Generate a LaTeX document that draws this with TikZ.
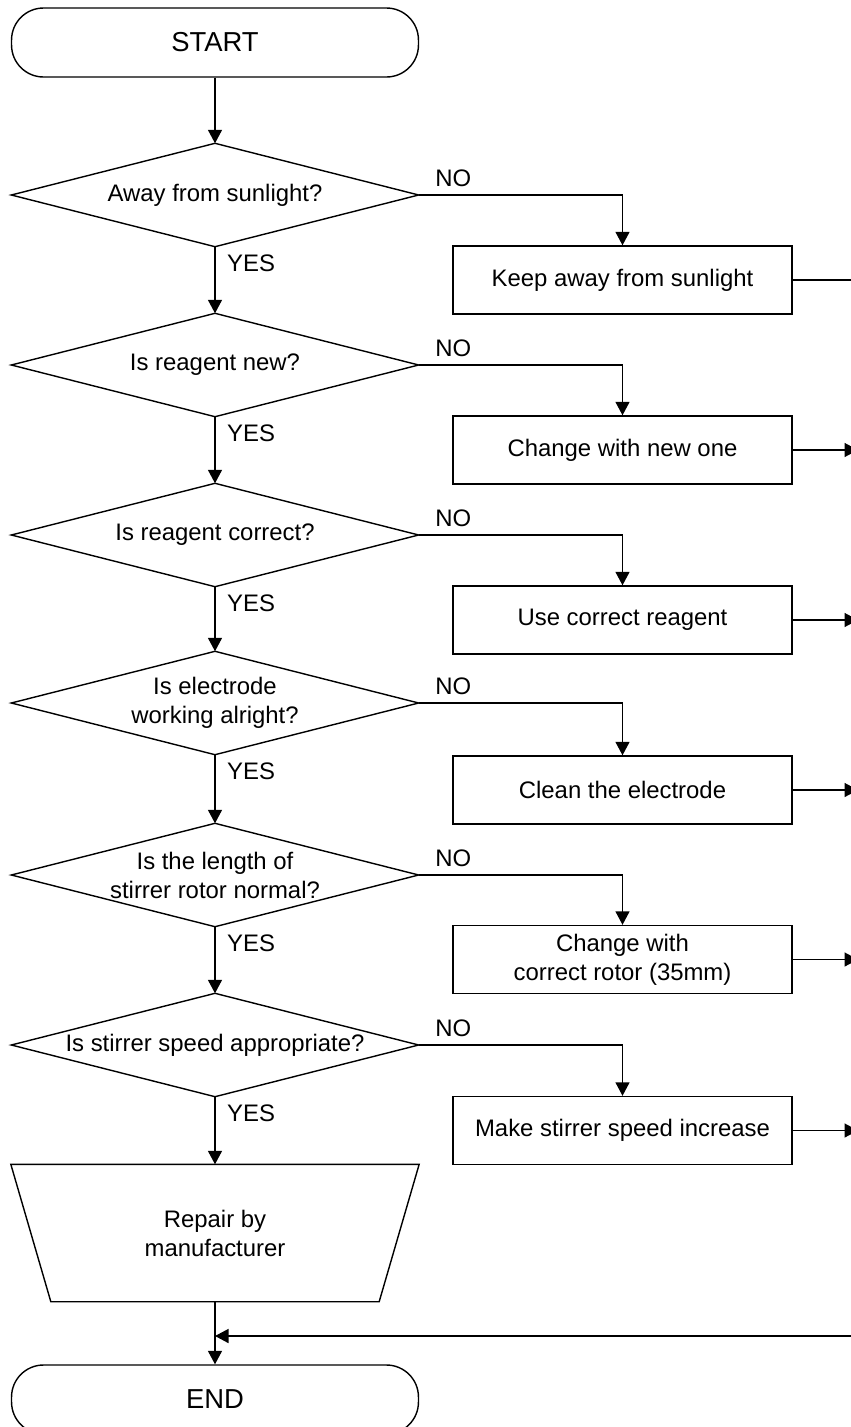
\documentclass[tikz,border=0pt]{standalone}
\usepackage{fontspec}
\setmainfont{Liberation Sans}
\usetikzlibrary{arrows.meta}

\begin{document}
\begin{tikzpicture}[x=0.02cm,y=-0.02cm,line width=0.8pt]
  \tikzset{every node/.style = {font=\fontsize{13.6}{16.5}\selectfont}}
  \tikzset{terminal/.style = {draw, rounded corners=0.64cm, minimum width=8.14cm, minimum height=1.38cm, font=\fontsize{15.6}{18}\selectfont}}
  \tikzset{decision/.style = {minimum width=8.12cm, minimum height=2.04cm, inner sep=0pt, align=center}}
  \tikzset{action/.style = {draw, minimum width=6.78cm, minimum height=1.36cm, align=center}}
  \tikzset{manual/.style = {minimum width=8.14cm, minimum height=2.72cm, align=center}}
  \tikzset{flow/.style = {-{Triangle[length=0.27cm,width=0.28cm]}}}
  \tikzset{yes/.style = {pos=0, anchor=base west, inner sep=0pt, xshift=0.23cm, yshift=-0.5cm}}
  \tikzset{no/.style = {pos=0, anchor=base west, inner sep=0pt, xshift=0.32cm, yshift=0.18cm}}

\useasboundingbox (0,0) rectangle (851,1427);

% main column
\node[terminal] (start) at (215,42.5) {START};
\node[decision] (d1) at (215,195) {Away from sunlight?};
\node[decision] (d2) at (215,365) {Is reagent new?};
\node[decision] (d3) at (215,535) {Is reagent correct?};
\node[decision] (d4) at (215,703) {Is electrode\\working alright?};
\node[decision] (d5) at (215,875) {Is the length of\\stirrer rotor normal?};
\node[decision] (d6) at (215,1045) {Is stirrer speed appropriate?};
\node[manual] (repair) at (215,1233) {Repair by\\manufacturer};
\node[terminal] (end) at (215,1399.5) {END};

% corrective actions
\node[action] (a1) at (622.5,280) {Keep away from sunlight};
\node[action] (a2) at (622.5,450) {Change with new one};
\node[action] (a3) at (622.5,620) {Use correct reagent};
\node[action] (a4) at (622.5,790) {Clean the electrode};
\node[action] (a5) at (622.5,959.5) {Change with\\correct rotor (35mm)};
\node[action] (a6) at (622.5,1130.5) {Make stirrer speed increase};

\coordinate (rail) at (858,0);
\coordinate (join) at (215,1336);

% outlines of the decisions and the manual step
\foreach \d in {d1,d2,d3,d4,d5,d6}
  \draw (\d.north) -- (\d.east) -- (\d.south) -- (\d.west) -- cycle;
\draw (repair.north west) -- (repair.north east) -- ([xshift=-0.8cm]repair.south east)
  -- ([xshift=0.8cm]repair.south west) -- cycle;

  \path[flow] (start) edge (d1);
  \foreach \a/\b/\n in {d1/d2/1,d2/d3/2,d3/d4/3,d4/d5/4,d5/d6/5,d6/repair/6}
    \draw[flow] (\a) -- (\b) node[yes] (yes\n) {YES};
  \draw[flow] (repair) -- (end);

  \foreach \n in {1,...,6}
    \draw[flow] (d\n.east) -| (a\n.north) node[no] (no\n) {NO};

  \draw (a1.east) -- (a1.east -| rail);
  \foreach \n in {2,...,6}
    \draw[flow] (a\n.east) -- (a\n.east -| rail);
  \draw[flow] (join -| rail) -- (join);

\end{tikzpicture}
\end{document}
